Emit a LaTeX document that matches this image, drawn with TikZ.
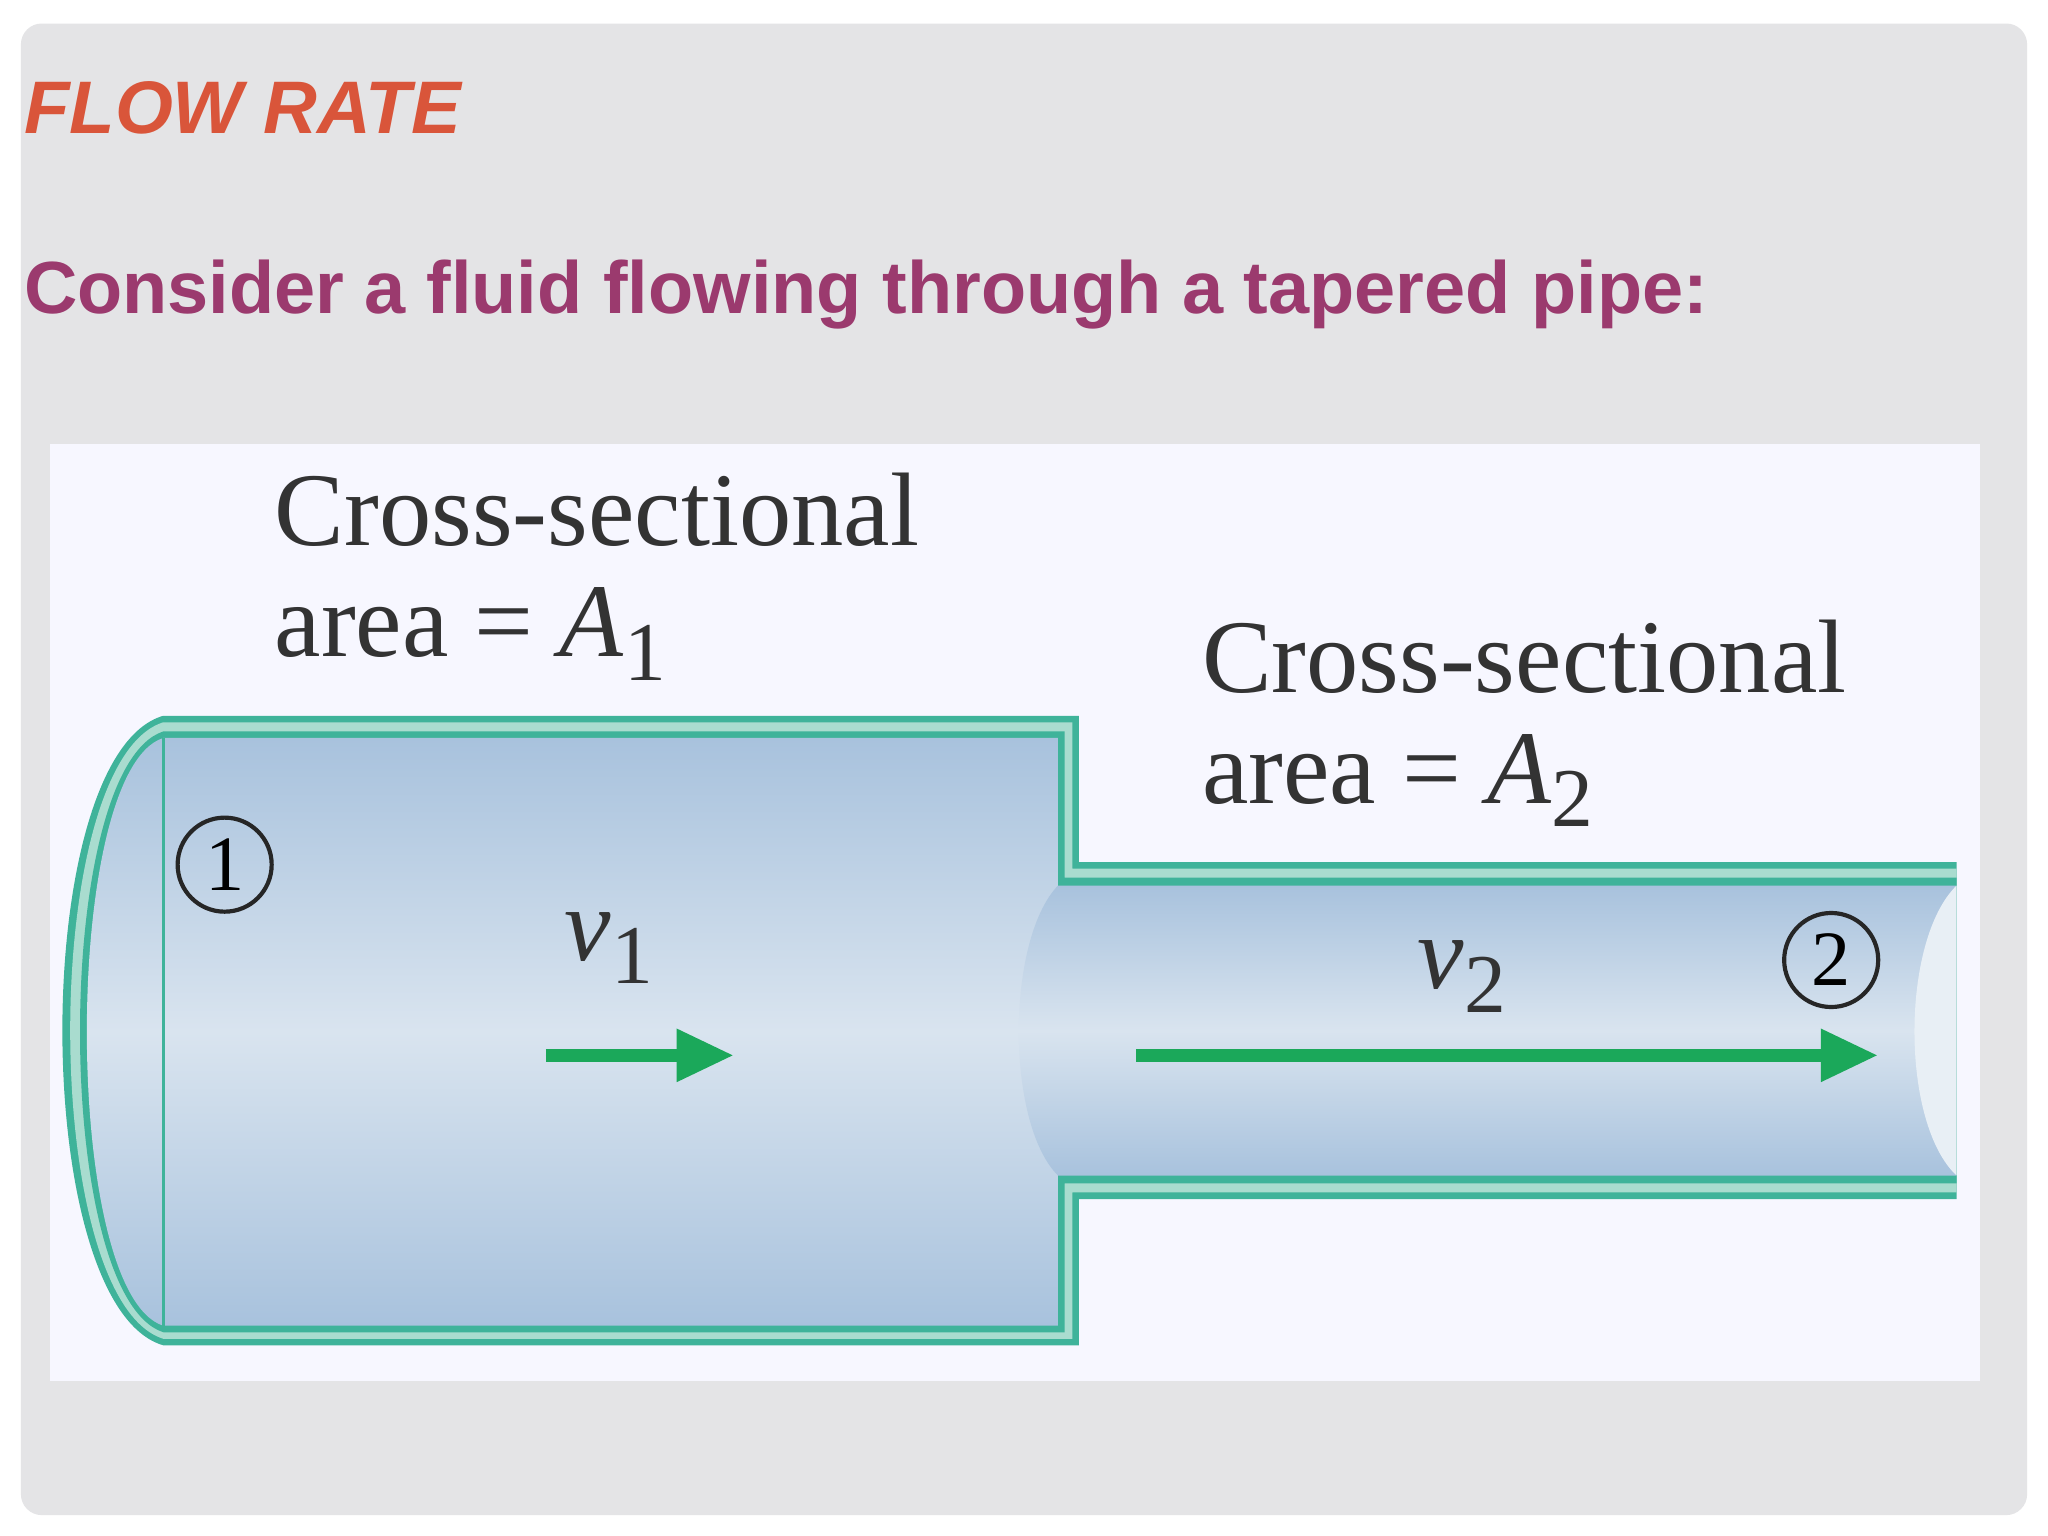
\documentclass[tikz,border=0pt]{standalone}
\usepackage{fontspec}
\setmainfont{Liberation Serif}
\newfontfamily\hdfont{Liberation Sans}
\usetikzlibrary{arrows.meta}
\begin{document}
\begin{tikzpicture}[x=0.5pt,y=-0.5pt,
  lbl/.style={anchor=base west,inner sep=0pt,text=black!80,font=\fontsize{40}{40}\selectfont},
  arr/.style={line width=5pt,-{Triangle[length=22pt,width=19pt]}},
  circ/.style={circle,draw=black!85,line width=1.6pt,minimum size=36pt,inner sep=0pt,font=\fontsize{30}{30}\selectfont}]
\newcommand{\mysub}[1]{\raisebox{-9pt}{\fontsize{32}{32}\selectfont #1}}
\definecolor{bg}{HTML}{E4E4E6}
\definecolor{teal1}{HTML}{3FB39A}
\definecolor{teal2}{HTML}{A9DCCF}
\definecolor{fl1}{HTML}{A8C2DD}
\definecolor{fl2}{HTML}{D9E4EF}
\definecolor{ttl}{HTML}{D9553A}
\definecolor{sub}{HTML}{9B3A6E}
\definecolor{grn}{HTML}{1BA85A}
\useasboundingbox (0,0) rectangle (1568,1176);
\fill[white] (0,0) rectangle (1568,1176);
\fill[bg,rounded corners=8pt] (16,18) rectangle (1552,1160);
\node[anchor=base west,inner sep=0pt,text=ttl,font=\hdfont\bfseries\itshape\fontsize{28.5}{28.5}\selectfont] (title) at (18,102) {FLOW RATE};
\node[anchor=base west,inner sep=0pt,text=sub,font=\hdfont\bfseries\fontsize{28.3}{28.3}\selectfont] (subt) at (18,240) {Consider a fluid flowing through a tapered pipe:};
\fill[white!97!blue] (38,340) rectangle (1516,1057);
% pipe wall
\fill[teal1] (125,548) -- (826,548) -- (826,660) -- (1498,660) -- (1498,918) -- (826,918) -- (826,1030) -- (125,1030) .. controls (22,1000) and (22,578) .. cycle;
\fill[teal2] (125,553) -- (821,553) -- (821,665) -- (1498,665) -- (1498,913) -- (821,913) -- (821,1025) -- (125,1025) .. controls (30,995) and (30,583) .. cycle;
\fill[teal1] (125,560) -- (815,560) -- (815,672) -- (1498,672) -- (1498,906) -- (815,906) -- (815,1020) -- (125,1020) .. controls (40,992) and (40,588) .. cycle;
% fluid
\shade[top color=fl1,bottom color=fl1,middle color=fl2] (125,565) -- (810,565) -- (810,1015) -- (125,1015) .. controls (47,990) and (47,590) .. cycle;
\shade[top color=fl1,bottom color=fl1,middle color=fl2] (810,678) -- (1498,678) -- (1498,900) -- (810,900) .. controls (770,860) and (770,720) .. cycle;
\fill[fl2!60!white] (1498,678) .. controls (1455,720) and (1455,860) .. (1498,900) -- cycle;
\draw[teal1,line width=1pt] (125,565) -- (125,1015);
\node[lbl] (c1) at (210,418) {Cross-sectional};
\node[lbl] (a1) at (210,503) {area = \textit{A}\mysub{1}};
\node[lbl] (c2) at (920,530) {Cross-sectional};
\node[lbl] (a2) at (920,615) {area = \textit{A}\mysub{2}};
\node[circ] (n1) at (172,662) {1};
\node[circ] (n2) at (1402,735) {2};
\node[lbl] (v1) at (432,735) {\textit{v}\mysub{1}};
\node[lbl] (v2) at (1085,757) {\textit{v}\mysub{2}};
\coordinate (p1) at (418,808); \coordinate (q1) at (562,808);
\coordinate (p2) at (870,808); \coordinate (q2) at (1438,808);
\draw[arr,draw=grn,fill=grn] (p1) -- (q1);
\draw[arr,draw=grn,fill=grn] (p2) -- (q2);
\end{tikzpicture}
\end{document}
